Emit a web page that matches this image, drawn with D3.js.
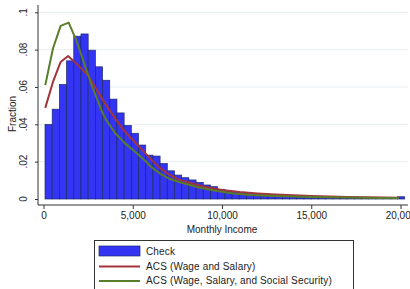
<!DOCTYPE html>
<html>
<head>
<meta charset="utf-8">
<script src="https://cdn.jsdelivr.net/npm/d3@7"></script>
<style>
  html, body { margin: 0; padding: 0; background: #ffffff; }
  svg { display: block; font-family: "Liberation Sans", Arial, sans-serif; }
</style>
</head>
<body>
<svg id="chart" width="410" height="289"></svg>
<script>
// ---------------- DATA ----------------
const binStart = 84;      // lower edge of first histogram bin (monthly income)
const binWidth = 403;     // histogram bin width
const checkFractions = [
  0.0399, 0.0481, 0.0613, 0.0740, 0.0872, 0.0884, 0.0797, 0.0708, 0.0636, 0.0535,
  0.0461, 0.0394, 0.0352, 0.0289, 0.0235, 0.0230, 0.0190, 0.0151, 0.0128, 0.0114,
  0.0102, 0.0089, 0.0075, 0.0066, 0.0052, 0.0044, 0.0039, 0.0031, 0.0029, 0.0026,
  0.0023, 0.0020, 0.0018, 0.0016, 0.0014, 0.0012, 0.0011, 0.0010, 0.0009, 0.0008,
  0.0007, 0.0006, 0.0006, 0.0005, 0.0005, 0.0004, 0.0004, 0.0003, 0.0003, 0.0012
];

const acsWageIncome = [100, 530, 960, 1380, 1930, 2490, 2890, 3450, 4000, 4500, 5000, 5500, 6000,
  6500, 7000, 7500, 8000, 9000, 10000, 11000, 12000, 13000, 14000, 15000, 16000, 17000, 18000, 19000, 19900];
const acsWageFraction = [0.0488, 0.0627, 0.0734, 0.0766, 0.0717, 0.0663, 0.0600, 0.0512, 0.0433, 0.0368,
  0.0316, 0.0266, 0.0215, 0.0168, 0.0133, 0.0108, 0.0092, 0.0066, 0.0048, 0.0037, 0.0030, 0.0024,
  0.0020, 0.0016, 0.0013, 0.0011, 0.0009, 0.0008, 0.0007];

const acsSSIncome = [100, 530, 960, 1410, 1840, 2310, 2770, 3240, 3500, 4000, 4570, 5130, 5700, 6000,
  6530, 7090, 7840, 8770, 9710, 10640, 11570, 13000, 14000, 15000, 16000, 17000, 18000, 19000, 19900];
const acsSSFraction = [0.0610, 0.0806, 0.0927, 0.0945, 0.0850, 0.0717, 0.0592, 0.0476, 0.0425, 0.0355,
  0.0298, 0.0253, 0.0205, 0.0174, 0.0136, 0.0107, 0.0084, 0.0060, 0.0043, 0.0030, 0.0022, 0.0016,
  0.0013, 0.0011, 0.0009, 0.0008, 0.0007, 0.0006, 0.0006];

const xTicks = [0, 5000, 10000, 15000, 20000];
const xTickLabels = ["0", "5,000", "10,000", "15,000", "20,000"];
const yTicks = [0, 0.02, 0.04, 0.06, 0.08, 0.1];
const yTickLabels = ["0", ".02", ".04", ".06", ".08", ".1"];
const legendLabels = ["Check", "ACS (Wage and Salary)", "ACS (Wage, Salary, and Social Security)"];
const xTitle = "Monthly Income";
const yTitle = "Fraction";

// ---------------- STYLE ----------------
const barFill = "#3434f4";
const barStroke = "#1c2a6a";
const redColor = "#a4343a";
const greenColor = "#5a7d2a";
const gridColor = "#e8eff1";

const svg = d3.select("#chart");
const x = d3.scaleLinear().domain([0, 20000]).range([43.5, 400.5]);
const y = d3.scaleLinear().domain([0, 0.1]).range([199, 12.3]);
const axisX = 38, axisY = 205;

// gridlines
svg.append("g").selectAll("line").data(yTicks.filter(d => d > 0)).join("line")
  .attr("x1", axisX).attr("x2", 408)
  .attr("y1", d => y(d)).attr("y2", d => y(d))
  .attr("stroke", gridColor).attr("stroke-width", 1);

// bars
svg.append("g").selectAll("rect").data(checkFractions).join("rect")
  .attr("x", (d, i) => x(binStart + i * binWidth))
  .attr("width", (d, i) => x(binStart + (i + 1) * binWidth) - x(binStart + i * binWidth))
  .attr("y", d => y(d))
  .attr("height", d => y(0) - y(d))
  .attr("fill", barFill)
  .attr("stroke", barStroke)
  .attr("stroke-width", 0.7);

// lines
const line = d3.line().x(d => x(d[0])).y(d => y(d[1]));
svg.append("path")
  .datum(acsWageIncome.map((v, i) => [v, acsWageFraction[i]]))
  .attr("d", line).attr("fill", "none").attr("stroke", redColor)
  .attr("stroke-width", 2).attr("stroke-linejoin", "round");
svg.append("path")
  .datum(acsSSIncome.map((v, i) => [v, acsSSFraction[i]]))
  .attr("d", line).attr("fill", "none").attr("stroke", greenColor)
  .attr("stroke-width", 2).attr("stroke-linejoin", "round");

// axes lines
svg.append("line").attr("x1", axisX).attr("x2", axisX).attr("y1", 5).attr("y2", axisY)
  .attr("stroke", "#333").attr("stroke-width", 1);
svg.append("line").attr("x1", axisX).attr("x2", 408).attr("y1", axisY).attr("y2", axisY)
  .attr("stroke", "#333").attr("stroke-width", 1);

// x axis ticks + labels
const gx = svg.append("g").attr("transform", `translate(0,${axisY})`)
  .call(d3.axisBottom(x).tickValues(xTicks).tickSize(4).tickPadding(3)
    .tickFormat((d, i) => xTickLabels[i]));
gx.select(".domain").remove();
gx.selectAll("line").attr("stroke", "#333");
gx.selectAll("text").attr("font-size", 10).attr("fill", "#222")
  .attr("font-family", "Liberation Sans, Arial, sans-serif");

// y axis ticks
const gy = svg.append("g").attr("transform", `translate(${axisX},0)`)
  .call(d3.axisLeft(y).tickValues(yTicks).tickSize(3).tickFormat(""));
gy.select(".domain").remove();
gy.selectAll("line").attr("stroke", "#333");
// rotated y tick labels
svg.append("g").selectAll("text").data(yTicks).join("text")
  .attr("transform", d => `translate(27,${y(d)}) rotate(-90)`)
  .attr("text-anchor", "middle")
  .attr("font-size", 10).attr("fill", "#222")
  .text((d, i) => yTickLabels[i]);

// axis titles
svg.append("text").attr("x", 222).attr("y", 233).attr("text-anchor", "middle")
  .attr("font-size", 10).attr("fill", "#222").text(xTitle);
svg.append("text").attr("transform", "translate(16,114) rotate(-90)")
  .attr("text-anchor", "middle").attr("font-size", 10).attr("fill", "#222").text(yTitle);

// legend
const lg = svg.append("g");
lg.append("rect").attr("x", 94.5).attr("y", 240.5).attr("width", 259).attr("height", 60)
  .attr("fill", "#fff").attr("stroke", "#333").attr("stroke-width", 1);
lg.append("rect").attr("x", 99).attr("y", 246).attr("width", 41).attr("height", 10)
  .attr("fill", barFill).attr("stroke", barStroke).attr("stroke-width", 0.7);
lg.append("line").attr("x1", 99).attr("x2", 140).attr("y1", 266.5).attr("y2", 266.5)
  .attr("stroke", redColor).attr("stroke-width", 2);
lg.append("line").attr("x1", 99).attr("x2", 140).attr("y1", 281).attr("y2", 281)
  .attr("stroke", greenColor).attr("stroke-width", 2);
lg.selectAll("text.lab").data(legendLabels).join("text")
  .attr("class", "lab")
  .attr("x", 146).attr("y", (d, i) => [254.5, 269.5, 284][i])
  .attr("font-size", 10).attr("letter-spacing", 0.15).attr("fill", "#222").text(d => d);
</script>
</body>
</html>
